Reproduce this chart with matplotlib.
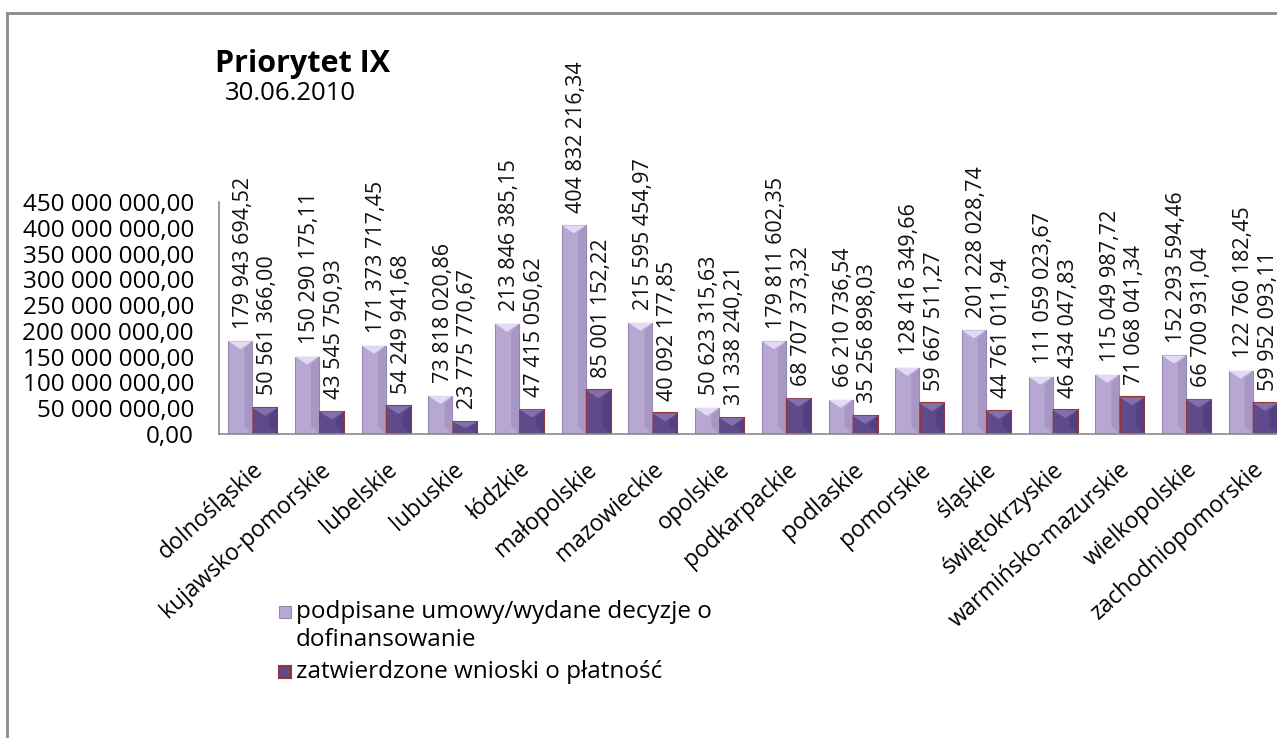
import numpy as np
import matplotlib
matplotlib.use("Agg")
import matplotlib.pyplot as plt
from matplotlib.patches import Polygon, Rectangle

plt.rcParams['font.family'] = ['Open Sans', 'DejaVu Sans']

# dane z wykresu
wojewodztwa = ['dolnośląskie', 'kujawsko-pomorskie', 'lubelskie', 'lubuskie',
               'łódzkie', 'małopolskie', 'mazowieckie', 'opolskie',
               'podkarpackie', 'podlaskie', 'pomorskie', 'śląskie',
               'świętokrzyskie', 'warmińsko-mazurskie', 'wielkopolskie',
               'zachodniopomorskie']
umowy = [179943694.52, 150290175.11, 171373717.45, 73818020.86,
         213846385.15, 404832216.34, 215595454.97, 50623315.63,
         179811602.35, 66210736.54, 128416349.66, 201228028.74,
         111059023.67, 115049987.72, 152293594.46, 122760182.45]
wnioski = [50561366.00, 43545750.93, 54249941.68, 23775770.67,
           47415050.62, 85001152.22, 40092177.85, 31338240.21,
           68707373.32, 35256898.03, 59667511.27, 44761011.94,
           46434047.83, 71068041.34, 66700931.04, 59952093.11]
serie = ['podpisane umowy/wydane decyzje o\ndofinansowanie',
         'zatwierdzone wnioski o płatność']
y_ticks = np.arange(0, 450000001, 50000000)


def fmt(v):
    # 179 943 694,52
    return f"{v:,.2f}".replace(',', ' ').replace('.', ',')


W, H = 1277, 738
fig = plt.figure(figsize=(W / 100, H / 100), dpi=100)
# ramka dookoła
fig.patches.append(Rectangle((7 / W, -0.01), 1.02, 1 - 13 / H + 0.01,
                             transform=fig.transFigure, fill=False,
                             edgecolor='#8a8a8a', linewidth=2))

ax_l, ax_r, ax_t, ax_b = 219, 1286, 202, 434
ax = fig.add_axes([ax_l / W, 1 - ax_b / H, (ax_r - ax_l) / W, (ax_b - ax_t) / H])
ax.set_xlim(-0.5, 15.5)
ax.set_ylim(0, 450000000)

kolory = [('#b6a8d2', '#9487b0', 0.8), ('#5f4b8b', '#953735', 1.5)]

x = np.arange(len(wojewodztwa))
w1, w2 = 0.36, 0.37
b1 = ax.bar(x - 0.18, umowy, w1, color=kolory[0][0], edgecolor=kolory[0][1], linewidth=kolory[0][2], zorder=2)
b2 = ax.bar(x + 0.19, wnioski, w2, color=kolory[1][0], edgecolor=kolory[1][1], linewidth=kolory[1][2], zorder=2)

# efekt "bevel" na słupkach
dy_px = 450000000 / (ax_b - ax_t)
dx_px = 16 / (ax_r - ax_l)
d = 8
for bars, top_c, side_c in [(b1, '#e2daf2', '#a797c4'), (b2, '#8270ad', '#544080')]:
    for r in bars:
        x0, w, h = r.get_x(), r.get_width(), r.get_height()
        ddx, ddy = d * dx_px, min(d * dy_px, h / 2)
        ax.add_patch(Polygon([(x0, h), (x0 + w, h), (x0 + w / 2, h - ddy)],
                             closed=True, facecolor=top_c, edgecolor='none', zorder=3))
        ax.add_patch(Polygon([(x0 + w, h), (x0 + w, 0), (x0 + w - ddx, ddy), (x0 + w - ddx, h - ddy)],
                             closed=True, facecolor=side_c, edgecolor='none', zorder=3))

for bars, vals in [(b1, umowy), (b2, wnioski)]:
    for r, v in zip(bars, vals):
        ax.annotate(fmt(v), (r.get_x() + r.get_width() / 2, v), xytext=(2, 9),
                    textcoords='offset points', rotation=90, ha='center', va='bottom',
                    fontsize=15.5, color='#111111')

for s in ['top', 'right']:
    ax.spines[s].set_visible(False)
for s in ['left', 'bottom']:
    ax.spines[s].set_color('#8a8a8a')
    ax.spines[s].set_linewidth(1.2)

ax.set_yticks(y_ticks)
ax.set_yticklabels([fmt(v) for v in y_ticks], fontsize=17.5)
ax.tick_params(axis='y', length=0, pad=18)
ax.set_xticks(x)
ax.set_xticklabels(wojewodztwa, rotation=42, ha='right', rotation_mode='anchor', fontsize=16.5)
ax.tick_params(axis='x', length=0, pad=17)

fig.text(215 / W, 1 - 72 / H, 'Priorytet IX', fontsize=22, fontweight='bold', va='baseline')
fig.text(225 / W, 1 - 100 / H, '30.06.2010', fontsize=18.5, va='baseline')

# legenda - znacznik przy pierwszej linii opisu
leg_y = [612, 672]
for (fc, ec, lw), lab, yy in zip(kolory, serie, leg_y):
    fig.patches.append(Rectangle((279 / W, 1 - (yy + 6) / H), 12 / W, 12 / H,
                                 transform=fig.transFigure, facecolor=fc,
                                 edgecolor=ec, linewidth=lw))
    fig.text(296 / W, 1 - (yy - 12) / H, lab, fontsize=17.5, va='top',
             linespacing=1.25)

fig.savefig('out.png', dpi=100)
